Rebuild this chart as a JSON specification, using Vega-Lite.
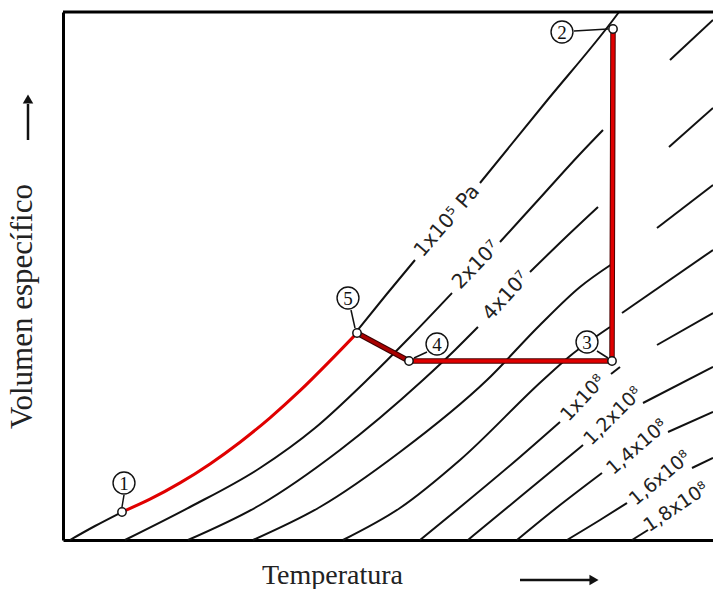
{
 "$schema": "https://vega.github.io/schema/vega-lite/v6.json",
 "width": 650, "height": 528,
 "autosize": {"type": "none"},
 "padding": {"left": 63, "top": 12, "right": 0, "bottom": 49},
 "background": "white",
 "config": {"view": {"stroke": null}},
 "datasets": {
  "iso": [
   {"id":"A1","t":7,"v":0},{"id":"A1","t":32,"v":14},{"id":"A1","t":59,"v":28},
   {"id":"A3","t":294,"v":209},{"id":"A3","t":323,"v":245},{"id":"A3","t":352,"v":280},
   {"id":"A4","t":417,"v":357},{"id":"A4","t":482,"v":437},{"id":"A4","t":550,"v":520},{"id":"A4","t":556,"v":528},
   {"id":"B1","t":62,"v":0},{"id":"B1","t":127,"v":33},{"id":"B1","t":197,"v":72},{"id":"B1","t":252,"v":112},{"id":"B1","t":304,"v":160},{"id":"B1","t":347,"v":203},{"id":"B1","t":389,"v":247},
   {"id":"B2","t":437,"v":298},{"id":"B2","t":477,"v":342},{"id":"B2","t":517,"v":386},{"id":"B2","t":540,"v":410},
   {"id":"R1","t":607,"v":480},{"id":"R1","t":650,"v":520},
   {"id":"C1","t":125,"v":0},{"id":"C1","t":197,"v":35},{"id":"C1","t":277,"v":90},{"id":"C1","t":360,"v":160},{"id":"C1","t":392,"v":190},{"id":"C1","t":415,"v":213},
   {"id":"C2","t":467,"v":268},{"id":"C2","t":502,"v":302},{"id":"C2","t":535,"v":333},
   {"id":"R2","t":606,"v":393},{"id":"R2","t":650,"v":432},
   {"id":"D1","t":190,"v":0},{"id":"D1","t":257,"v":33},{"id":"D1","t":337,"v":88},{"id":"D1","t":424,"v":160},{"id":"D1","t":477,"v":215},{"id":"D1","t":517,"v":253},{"id":"D1","t":549,"v":276},
   {"id":"R3","t":594,"v":312},{"id":"R3","t":650,"v":355},
   {"id":"E1","t":280,"v":0},{"id":"E1","t":337,"v":32},{"id":"E1","t":397,"v":80},{"id":"E1","t":480,"v":160},{"id":"E1","t":507,"v":184},{"id":"E1","t":547,"v":213},
   {"id":"R4","t":559,"v":227},{"id":"R4","t":650,"v":290},
   {"id":"F1","t":357,"v":0},{"id":"F1","t":457,"v":83},{"id":"F1","t":497,"v":118},
   {"id":"F2","t":548,"v":166},{"id":"F2","t":557,"v":173},
   {"id":"R5","t":594,"v":195},{"id":"R5","t":650,"v":227},
   {"id":"G1","t":405,"v":0},{"id":"G1","t":457,"v":43},{"id":"G1","t":520,"v":95},
   {"id":"G2","t":580,"v":137},{"id":"G2","t":650,"v":173},
   {"id":"H1","t":454,"v":0},{"id":"H1","t":487,"v":27},{"id":"H1","t":539,"v":67},
   {"id":"H2","t":605,"v":108},{"id":"H2","t":650,"v":128},
   {"id":"I1","t":504,"v":0},{"id":"I1","t":537,"v":20},{"id":"I1","t":564,"v":37},
   {"id":"I2","t":629,"v":72},{"id":"I2","t":650,"v":82},
   {"id":"J1","t":569,"v":0},{"id":"J1","t":585,"v":10}
  ],
  "red1": [
   {"i":0,"t":59,"v":28},{"i":1,"t":87,"v":40.8},{"i":2,"t":117,"v":57.1},{"i":3,"t":147,"v":76.1},{"i":4,"t":177,"v":97.8},{"i":5,"t":207,"v":122.2},{"i":6,"t":237,"v":149.3},{"i":7,"t":267,"v":179.1},{"i":8,"t":294,"v":207}
  ],
  "red54": [{"i":0,"t":294,"v":207},{"i":1,"t":346,"v":179}],
  "red432": [{"i":0,"t":346,"v":179},{"i":1,"t":549,"v":179},{"i":2,"t":550,"v":511}],
  "leaders": [
   {"id":"1","t":61,"v":45},{"id":"1","t":59,"v":33},
   {"id":"2","t":511,"v":509},{"id":"2","t":545,"v":511},
   {"id":"5","t":288,"v":230},{"id":"5","t":292,"v":212},
   {"id":"4","t":364,"v":188},{"id":"4","t":351,"v":182},
   {"id":"3","t":534,"v":189},{"id":"3","t":545,"v":182}
  ],
  "pts": [
   {"n":"1","t":59,"v":28},{"n":"2","t":550,"v":511},{"n":"3","t":549,"v":179},{"n":"4","t":346,"v":179},{"n":"5","t":294,"v":207}
  ],
  "labs": [
   {"n":"1","t":61,"v":57},{"n":"2","t":499,"v":508},{"n":"3","t":524,"v":198},{"n":"4","t":374,"v":196},{"n":"5","t":285,"v":242}
  ],
  "top": [{"t":0,"v":528},{"t":650,"v":528}],
  "arrx": [{"t":457,"v":-40},{"t":527,"v":-40}],
  "arry": [{"t":-35,"v":400},{"t":-35,"v":436}],
  "headx": [{"t":531,"v":-40}],
  "heady": [{"t":-35,"v":441}]
 },
 "encoding": {
  "x": {"field":"t","type":"quantitative","scale":{"domain":[0,650],"nice":false,"zero":false},
        "axis":{"title":"Temperatura","domain":true,"domainColor":"#000","domainWidth":3,"ticks":false,"labels":false,"grid":false,
                "titleFont":"Liberation Serif","titleFontSize":28,"titleFontWeight":"normal","titleColor":"#222",
                "titleX":269,"titleY":43,"titleAlign":"center","titleBaseline":"alphabetic"}},
  "y": {"field":"v","type":"quantitative","scale":{"domain":[0,528],"nice":false,"zero":false},
        "axis":{"title":"Volumen específico","domain":true,"domainColor":"#000","domainWidth":3,"ticks":false,"labels":false,"grid":false,
                "titleFont":"Liberation Serif","titleFontSize":31,"titleFontWeight":"normal","titleColor":"#222",
                "titleAngle":-90,"titleX":-32,"titleY":294,"titleAlign":"center","titleBaseline":"alphabetic"}}
 },
 "layer": [
  {"data":{"name":"iso"},"mark":{"type":"line","color":"#111","strokeWidth":2,"interpolate":"monotone"},"encoding":{"detail":{"field":"id"}}},
  {"data":{"name":"red432"},"mark":{"type":"line","color":"#4a0000","strokeWidth":5.5,"strokeJoin":"miter"},"encoding":{"order":{"field":"i"}}},
  {"data":{"name":"red432"},"mark":{"type":"line","color":"#e00000","strokeWidth":3.5,"strokeJoin":"miter"},"encoding":{"order":{"field":"i"}}},
  {"data":{"name":"red54"},"mark":{"type":"line","color":"#3a0000","strokeWidth":5.5}},
  {"data":{"name":"red54"},"mark":{"type":"line","color":"#a80000","strokeWidth":3.5}},
  {"data":{"name":"red1"},"mark":{"type":"line","color":"#e00000","strokeWidth":3,"interpolate":"monotone"},"encoding":{"order":{"field":"i"}}},
  {"data":{"name":"leaders"},"mark":{"type":"line","color":"#111","strokeWidth":1.5},"encoding":{"detail":{"field":"id"}}},
  {"data":{"name":"pts"},"mark":{"type":"point","shape":"circle","filled":true,"fill":"white","stroke":"#111","strokeWidth":1.5,"size":70,"opacity":1}},
  {"data":{"name":"labs"},"mark":{"type":"point","shape":"circle","filled":true,"fill":"white","stroke":"#111","strokeWidth":1.4,"size":480,"opacity":1}},
  {"data":{"name":"labs"},"mark":{"type":"text","font":"Liberation Serif","fontSize":19,"color":"#111","baseline":"middle","align":"center","dy":1},"encoding":{"text":{"field":"n"}}},
  {"data":{"values":[{"s":"1x10⁵ Pa","t":384,"v":319}]},"mark":{"type":"text","font":"DejaVu Sans","fontSize":20,"color":"#222","angle":-49,"baseline":"middle","align":"center"},"encoding":{"text":{"field":"s"}}},
  {"data":{"values":[{"s":"2x10⁷","t":413,"v":275}]},"mark":{"type":"text","font":"DejaVu Sans","fontSize":20,"color":"#222","angle":-46,"baseline":"middle","align":"center"},"encoding":{"text":{"field":"s"}}},
  {"data":{"values":[{"s":"4x10⁷","t":443,"v":244}]},"mark":{"type":"text","font":"DejaVu Sans","fontSize":20,"color":"#222","angle":-48,"baseline":"middle","align":"center"},"encoding":{"text":{"field":"s"}}},
  {"data":{"values":[{"s":"1x10⁸","t":520,"v":142}]},"mark":{"type":"text","font":"DejaVu Sans","fontSize":19,"color":"#222","angle":-47,"baseline":"middle","align":"center"},"encoding":{"text":{"field":"s"}}},
  {"data":{"values":[{"s":"1,2x10⁸","t":550,"v":124}]},"mark":{"type":"text","font":"DejaVu Sans","fontSize":19,"color":"#222","angle":-45,"baseline":"middle","align":"center"},"encoding":{"text":{"field":"s"}}},
  {"data":{"values":[{"s":"1,4x10⁸","t":574,"v":93}]},"mark":{"type":"text","font":"DejaVu Sans","fontSize":19,"color":"#222","angle":-41,"baseline":"middle","align":"center"},"encoding":{"text":{"field":"s"}}},
  {"data":{"values":[{"s":"1,6x10⁸","t":597,"v":62}]},"mark":{"type":"text","font":"DejaVu Sans","fontSize":19,"color":"#222","angle":-40,"baseline":"middle","align":"center"},"encoding":{"text":{"field":"s"}}},
  {"data":{"values":[{"s":"1,8x10⁸","t":613,"v":33}]},"mark":{"type":"text","font":"DejaVu Sans","fontSize":19,"color":"#222","angle":-34,"baseline":"middle","align":"center"},"encoding":{"text":{"field":"s"}}},
  {"data":{"name":"top"},"mark":{"type":"line","color":"#000","strokeWidth":3}},
  {"data":{"name":"arrx"},"mark":{"type":"line","color":"#111","strokeWidth":2.5}},
  {"data":{"name":"arry"},"mark":{"type":"line","color":"#111","strokeWidth":2.5}},
  {"data":{"name":"headx"},"mark":{"type":"point","shape":"triangle-right","filled":true,"color":"#111","size":110,"opacity":1}},
  {"data":{"name":"heady"},"mark":{"type":"point","shape":"triangle-up","filled":true,"color":"#111","size":110,"opacity":1}}
 ]
}
